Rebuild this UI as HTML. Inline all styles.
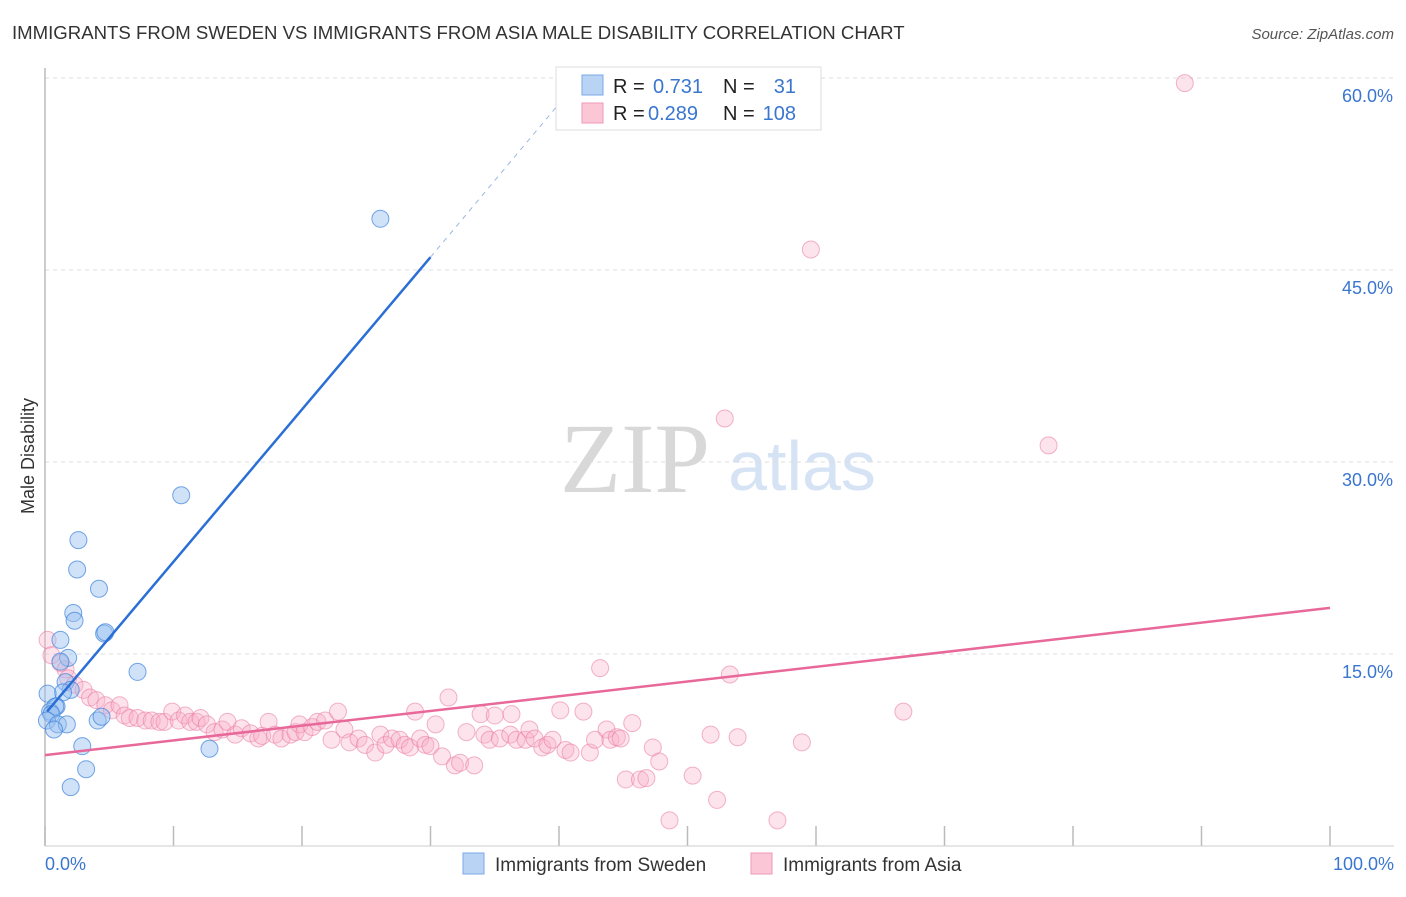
<!DOCTYPE html>
<html><head><meta charset="utf-8"><style>
body{margin:0;background:#fff;font-family:"Liberation Sans",sans-serif;}
</style></head><body>
<svg id="chart" width="1406" height="892" xmlns="http://www.w3.org/2000/svg" font-family="Liberation Sans, sans-serif">
<text x="12" y="39" font-size="18.6" fill="#333">IMMIGRANTS FROM SWEDEN VS IMMIGRANTS FROM ASIA MALE DISABILITY CORRELATION CHART</text>
<text x="1394" y="39" font-size="15" fill="#555" font-style="italic" text-anchor="end">Source: ZipAtlas.com</text>
<text x="34" y="456" font-size="18" fill="#333" text-anchor="middle" transform="rotate(-90 34 456)">Male Disability</text>
<text x="635" y="492" font-size="100" fill="#d8d8d8" style="font-family:'Liberation Serif',serif" text-anchor="middle">ZIP</text>
<text x="802" y="490" font-size="70" fill="#d5e3f5" text-anchor="middle">atlas</text>
<g id="grid"></g>
<g id="ticks"></g>
<line x1="45" y1="68" x2="45" y2="846" stroke="#bbb" stroke-width="1.5"/>
<line x1="45" y1="846" x2="1394" y2="846" stroke="#ccc" stroke-width="1"/>
<g id="pinkPts"></g>
<g id="bluePts"></g>
<g id="lines"></g>
<text x="45" y="870" font-size="18" fill="#3a76d0">0.0%</text>
<text x="1394" y="870" font-size="18" fill="#3a76d0" text-anchor="end">100.0%</text>
<g>
<rect x="556" y="67" width="265" height="63" fill="#fff" stroke="#ddd"/>
<rect x="582" y="75" width="21" height="20" fill="#b9d3f5" stroke="#7aa9e6"/>
<rect x="582" y="103" width="21" height="20" fill="#fbc7d6" stroke="#ee9ab5"/>
<text x="613" y="93" font-size="20" fill="#222">R = </text><text x="653" y="93" font-size="20" fill="#3a76d0">0.731</text>
<text x="723" y="93" font-size="20" fill="#222">N = </text><text x="796" y="93" font-size="20" fill="#3a76d0" text-anchor="end">31</text>
<text x="613" y="120" font-size="20" fill="#222">R = </text><text x="648" y="120" font-size="20" fill="#3a76d0">0.289</text>
<text x="723" y="120" font-size="20" fill="#222">N = </text><text x="796" y="120" font-size="20" fill="#3a76d0" text-anchor="end">108</text>
</g>
<g>
<rect x="463" y="853" width="21" height="21" fill="#b9d3f5" stroke="#7aa9e6"/>
<text x="495" y="871" font-size="19" fill="#333">Immigrants from Sweden</text>
<rect x="751" y="853" width="21" height="21" fill="#fbc7d6" stroke="#ee9ab5"/>
<text x="783" y="871" font-size="19" fill="#333">Immigrants from Asia</text>
</g>
</svg>
<script>
const yTicks=[15,30,45,60];
const yTickLabels=["15.0%","30.0%","45.0%","60.0%"];
const xTicks=[0,10,20,30,40,50,60,70,80,90,100];
const swedenX=[26.1,10.6,2.6,2.5,4.2,2.2,2.3,4.6,4.7,1.2,1.8,1.2,7.2,1.6,2.0,1.4,0.2,0.9,0.4,0.8,0.5,0.15,1.0,1.7,4.1,4.4,12.8,2.9,3.2,2.0,0.7];
const swedenY=[49.0,27.4,23.9,21.6,20.1,18.2,17.6,16.6,16.7,16.1,14.7,14.4,13.6,12.8,12.2,12.0,11.9,10.9,10.5,10.9,10.3,9.8,9.5,9.5,9.8,10.1,7.6,7.8,6.0,4.6,9.1];
const asiaX=[88.7,59.6,52.9,78.1,0.2,0.5,1.2,1.6,1.8,2.3,3.0,3.5,4.0,4.7,5.2,5.8,6.2,6.6,7.2,7.8,8.3,8.9,9.3,9.9,10.4,10.9,11.3,11.8,12.1,12.6,13.2,13.8,14.2,14.8,15.3,16.0,16.6,16.9,17.4,17.9,18.4,19.1,19.5,19.8,20.2,20.8,21.2,21.8,22.3,22.8,23.3,23.7,24.4,24.9,25.7,26.1,26.5,27.0,27.6,28.0,28.4,28.8,29.2,29.6,30.0,30.4,30.9,31.4,31.9,32.3,32.8,33.4,33.9,34.2,34.6,35.0,35.4,36.2,36.3,36.7,37.4,37.7,38.1,38.7,39.1,39.5,40.1,40.5,40.9,41.9,42.4,42.8,43.2,43.7,44.0,44.5,44.8,45.2,45.7,46.3,46.8,47.3,47.8,48.6,50.4,51.8,52.3,53.3,53.9,58.9,57.0,66.8];
const asiaY=[59.6,46.6,33.4,31.3,16.1,14.9,14.3,13.8,13.1,12.6,12.2,11.6,11.4,11.0,10.6,11.0,10.2,10.0,10.0,9.8,9.8,9.7,9.7,10.5,9.8,10.2,9.7,9.7,10.0,9.5,8.9,9.1,9.7,8.7,9.2,8.8,8.4,8.6,9.7,8.7,8.4,8.7,8.9,9.5,8.9,9.3,9.7,9.8,8.3,10.5,9.1,8.1,8.4,7.9,7.3,8.7,7.9,8.4,8.3,7.9,7.7,10.5,8.4,7.9,7.8,9.5,7.0,11.6,6.3,6.5,8.9,6.3,10.3,8.7,8.3,10.2,8.4,8.7,10.3,8.3,8.3,9.1,8.4,7.7,7.9,8.3,10.6,7.5,7.3,10.5,7.3,8.3,13.9,9.1,8.3,8.5,8.4,5.2,9.6,5.2,5.3,7.7,6.6,2.0,5.5,8.7,3.6,13.4,8.5,8.1,2.0,10.5];
const trendSweden=[[0.16,10.5],[30,46.0]];
const trendSwedenDash=[[30,46.0],[41.6,59.9]];
const trendAsia=[[0,7.1],[100,18.6]];
const NS="http://www.w3.org/2000/svg";
const sx=v=>45+v*12.85;
const sy=v=>846-v*12.8;
function mk(tag,attrs,parent){const e=document.createElementNS(NS,tag);for(const k in attrs)e.setAttribute(k,attrs[k]);parent.appendChild(e);return e;}
const grid=document.getElementById('grid');
yTicks.forEach((t,i)=>{
  const l=mk('line',{x1:45,x2:1394,y1:sy(t),y2:sy(t),stroke:'#ddd','stroke-dasharray':'4 4'},grid);
  
  
  const tx=mk('text',{x:1393,y:sy(t)+24,'font-size':18,fill:'#3a76d0','text-anchor':'end'},grid);
  tx.textContent=yTickLabels[i];
  
  
});
const ticks=document.getElementById('ticks');
xTicks.forEach(t=>{
  const l=mk('line',{x1:sx(t),x2:sx(t),y1:826,y2:846,stroke:'#bbb','stroke-width':1.5},ticks);
  
  
});
const pg=document.getElementById('pinkPts');
asiaX.forEach((x,i)=>{
  const c=mk('circle',{cx:sx(x),cy:sy(asiaY[i]),r:8.5,fill:'rgba(248,175,200,0.35)',stroke:'rgba(232,120,160,0.55)','stroke-width':1},pg);
  
  
});
const bg=document.getElementById('bluePts');
swedenX.forEach((x,i)=>{
  const c=mk('circle',{cx:sx(x),cy:sy(swedenY[i]),r:8.5,fill:'rgba(150,190,240,0.45)',stroke:'rgba(60,130,220,0.7)','stroke-width':1},bg);
  
  
});
const lg=document.getElementById('lines');
let a=mk('line',{x1:sx(trendAsia[0][0]),y1:sy(trendAsia[0][1]),x2:sx(trendAsia[1][0]),y2:sy(trendAsia[1][1]),stroke:'#e8689a','stroke-width':2.5},lg);


let b=mk('line',{x1:sx(trendSweden[0][0]),y1:sy(trendSweden[0][1]),x2:sx(trendSweden[1][0]),y2:sy(trendSweden[1][1]),stroke:'#2a6fd6','stroke-width':2.5},lg);


let d=mk('line',{x1:sx(trendSwedenDash[0][0]),y1:sy(trendSwedenDash[0][1]),x2:sx(trendSwedenDash[1][0]),y2:sy(trendSwedenDash[1][1]),stroke:'#9bb8e0','stroke-width':1,'stroke-dasharray':'5 5'},lg);


</script>
</body></html>
